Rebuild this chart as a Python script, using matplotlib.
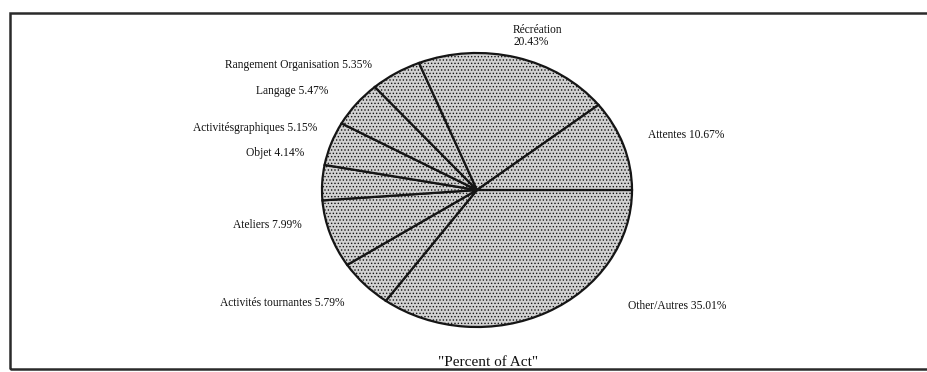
import matplotlib as mpl
import matplotlib.pyplot as plt
from matplotlib.patches import Rectangle

# Data (clockwise from 3 o'clock)
categories = ['Other/Autres', 'Activités tournantes', 'Ateliers', 'Objet',
              'Activitésgraphiques', 'Langage', 'Rangement Organisation',
              'Récréation', 'Attentes']
percents = [35.01, 5.79, 7.99, 4.14, 5.15, 5.47, 5.35, 20.43, 10.67]
title = '"Percent of Act"'

# label anchor positions in pixels (x, y from top), and alignment
label_pos = [(628, 306, 'left'), (344, 303, 'right'), (302, 225, 'right'),
             (304, 153, 'right'), (317, 128, 'right'), (328, 91, 'right'),
             (372, 65, 'right'), (513, 36, 'left'), (648, 135, 'left')]

W, H = 928, 372
mpl.rcParams['font.family'] = ['Liberation Serif', 'DejaVu Serif']
mpl.rcParams['hatch.color'] = '#858585'
mpl.rcParams['hatch.linewidth'] = 0.6

fig = plt.figure(figsize=(W / 100, H / 100), dpi=100)

# pie drawn as an ellipse: axes covering pixel box x 322..632, y 53..327
x0, x1, y0, y1 = 322, 632, 53, 327
ax = fig.add_axes([x0 / W, 1 - y1 / H, (x1 - x0) / W, (y1 - y0) / H])
wedges, _ = ax.pie(percents, startangle=0, counterclock=False,
                   wedgeprops=dict(facecolor='#d2d2d2', edgecolor='#151515',
                                   linewidth=1.6, hatch='.....'))
ax.set_aspect('auto')
ax.set_xlim(-1, 1)
ax.set_ylim(-1, 1)
ax.axis('off')

for cat, pct, (px, py, ha) in zip(categories, percents, label_pos):
    if cat == 'Récréation':
        txt = '%s\n%.2f%%' % (cat, pct)
    else:
        txt = '%s %.2f%%' % (cat, pct)
    fig.text(px / W, 1 - py / H, txt, ha=ha, va='center', fontsize=8.3,
             color='#111111', linespacing=1.05)

fig.text(488 / W, 1 - 363 / H, title, ha='center', va='center',
         fontsize=11, color='#111111')

# frame around the chart
fig.add_artist(Rectangle((10 / W, 1 - 369 / H), (W + 10) / W, (369 - 13) / H,
                         transform=fig.transFigure, fill=False,
                         edgecolor='#2a2a2a', linewidth=1.8))

fig.savefig('out.png', dpi=100)
